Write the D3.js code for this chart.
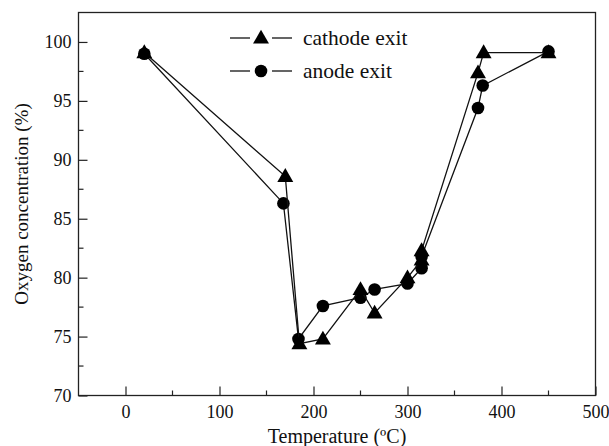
<!DOCTYPE html>
<html lang="en">
<head>
  <meta charset="UTF-8">
  <title>Oxygen concentration vs temperature</title>
  <script src="https://d3js.org/d3.v7.min.js"></script>
  <style>
    body { margin: 0; background: #fff; }
    svg text { font-family: 'Liberation Serif', 'DejaVu Serif', 'Times New Roman', Times, serif; fill: #111; }
  </style>
</head>
<body>
  <script>
    // data: [temperature, oxygen %]
    const cathode = [
      [20, 99.1], [170, 88.6], [185, 74.4], [210, 74.8], [250, 79.0], [265, 77.0],
      [300, 80.0], [315, 81.5], [315, 82.3], [375, 97.4], [381, 99.1], [450, 99.1]
    ];
    const anode = [
      [20, 99.0], [168, 86.3], [184, 74.8], [210, 77.6], [250, 78.3], [265, 79.0],
      [300, 79.5], [315, 80.8], [315, 81.8], [375, 94.4], [380, 96.3], [450, 99.2]
    ];
    const xTicks = [0, 100, 200, 300, 400, 500];
    const yTicks = [70, 75, 80, 85, 90, 95, 100];
    const legendLabels = ['cathode exit', 'anode exit'];

    const w = 609, h = 446;
    const mLeft = 78.5, mRight = 595.5, mTop = 12.5, mBottom = 395.5;
    const serif = "'Liberation Serif', 'DejaVu Serif', 'Times New Roman', Times, serif";

    const xScale = d3.scaleLinear().domain([-50, 500]).range([mLeft, mRight]);
    const yScale = d3.scaleLinear().domain([70, 102.5]).range([mBottom, mTop]);

    const svg = d3.select('body').append('svg')
      .attr('width', w)
      .attr('height', h)
      .attr('font-family', serif);

    // frame
    svg.append('rect')
      .attr('x', mLeft).attr('y', mTop)
      .attr('width', mRight - mLeft).attr('height', mBottom - mTop)
      .attr('fill', 'none').attr('stroke', '#222').attr('stroke-width', 1.3);

    // x axis, ticks inside
    const xAxis = d3.axisBottom(xScale).tickValues(xTicks).tickSizeInner(-9).tickSizeOuter(0).tickPadding(10);
    const gx = svg.append('g').attr('transform', `translate(0,${mBottom})`).call(xAxis)
      .attr('font-family', serif).attr('font-size', 18);
    gx.select('.domain').remove();
    gx.selectAll('line').attr('stroke', '#222').attr('stroke-width', 1.2);
    // minor x ticks
    svg.append('g').selectAll('line')
      .data(d3.range(50, 500, 100))
      .join('line')
      .attr('x1', d => xScale(d)).attr('x2', d => xScale(d))
      .attr('y1', mBottom).attr('y2', mBottom - 5)
      .attr('stroke', '#222').attr('stroke-width', 1.2);

    // y axis, ticks inside
    const yAxis = d3.axisLeft(yScale).tickValues(yTicks).tickSizeInner(-9).tickSizeOuter(0).tickPadding(7);
    const gy = svg.append('g').attr('transform', `translate(${mLeft},0)`).call(yAxis)
      .attr('font-family', serif).attr('font-size', 18);
    gy.select('.domain').remove();
    gy.selectAll('line').attr('stroke', '#222').attr('stroke-width', 1.2);
    svg.append('g').selectAll('line')
      .data(d3.range(72.5, 102.5, 5))
      .join('line')
      .attr('x1', mLeft).attr('x2', mLeft + 5)
      .attr('y1', d => yScale(d)).attr('y2', d => yScale(d))
      .attr('stroke', '#222').attr('stroke-width', 1.2);

    // axis titles
    svg.append('text')
      .attr('x', (mLeft + mRight) / 2).attr('y', 443)
      .attr('text-anchor', 'middle').attr('font-size', 20)
      .text('Temperature (ºC)');
    svg.append('text')
      .attr('transform', `translate(28,${(mTop + mBottom) / 2}) rotate(-90)`)
      .attr('text-anchor', 'middle').attr('font-size', 19)
      .text('Oxygen concentration (%)');

    const line = d3.line().x(d => xScale(d[0])).y(d => yScale(d[1]));
    const tri = d3.symbol().type(d3.symbolTriangle).size(110);

    function drawSeries(data, shape) {
      svg.append('path')
        .datum(data)
        .attr('d', line)
        .attr('fill', 'none').attr('stroke', '#111').attr('stroke-width', 1.3);
      if (shape === 'tri') {
        svg.append('g').selectAll('path')
          .data(data)
          .join('path')
          .attr('d', tri)
          .attr('transform', d => `translate(${xScale(d[0])},${yScale(d[1]) + 1})`)
          .attr('fill', '#000');
      } else {
        svg.append('g').selectAll('circle')
          .data(data)
          .join('circle')
          .attr('cx', d => xScale(d[0])).attr('cy', d => yScale(d[1]))
          .attr('r', 6.3)
          .attr('fill', '#000');
      }
    }
    drawSeries(anode, 'circle');
    drawSeries(cathode, 'tri');

    // legend
    const legend = svg.append('g');
    [0, 1].forEach(i => {
      const y = 38 + i * 33;
      legend.append('line').attr('x1', 230).attr('x2', 250).attr('y1', y).attr('y2', y)
        .attr('stroke', '#111').attr('stroke-width', 1.3);
      legend.append('line').attr('x1', 272).attr('x2', 292).attr('y1', y).attr('y2', y)
        .attr('stroke', '#111').attr('stroke-width', 1.3);
      if (i === 0) {
        legend.append('path').attr('d', tri).attr('transform', `translate(261,${y + 1})`).attr('fill', '#000');
      } else {
        legend.append('circle').attr('cx', 261).attr('cy', y).attr('r', 6.3).attr('fill', '#000');
      }
      legend.append('text').attr('x', 303).attr('y', y + 6.5)
        .attr('font-size', 21.5).text(legendLabels[i]);
    });
  </script>
</body>
</html>
